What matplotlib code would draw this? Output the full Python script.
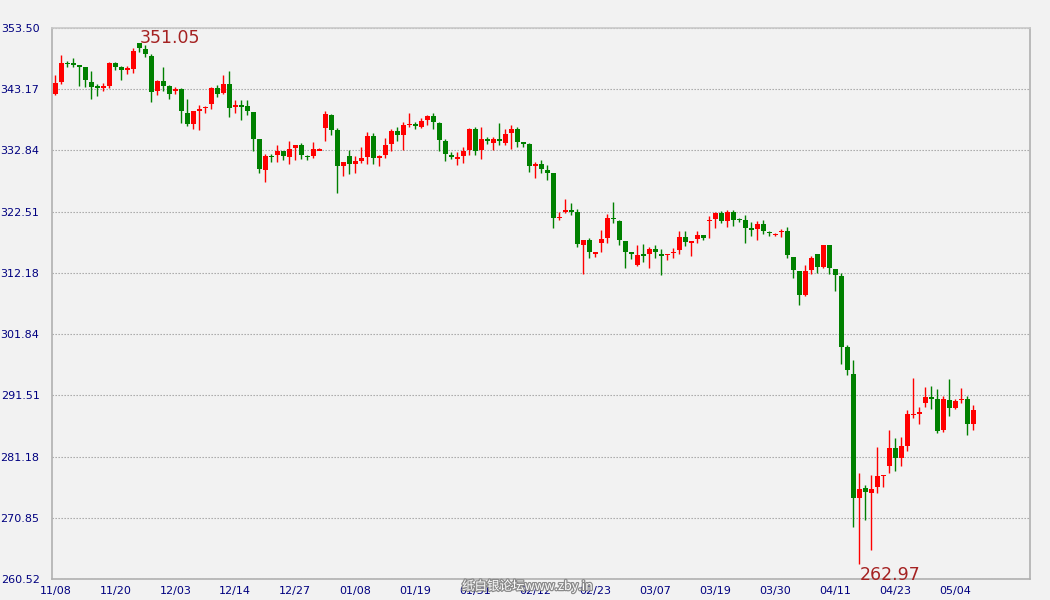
import numpy as np
import matplotlib
matplotlib.use("Agg")
import matplotlib.pyplot as plt
import matplotlib.patheffects as pe

# daily OHLC (red = up, green = down)
opens = [342.32, 344.36, 347.55, 347.42, 347.23, 346.90, 344.36, 343.53, 343.49, 343.74,
         347.63, 346.95, 346.59, 346.61, 350.95, 349.94, 348.76, 342.89, 344.53, 343.68,
         343.04, 343.17, 339.11, 337.30, 339.56, 340.05, 340.69, 343.34, 342.55, 344.02,
         340.27, 340.37, 340.29, 339.28, 334.70, 329.51, 331.84, 332.11, 332.67, 331.71,
         333.24, 333.69, 331.84, 331.88, 332.93, 336.62, 338.77, 336.23, 330.19, 331.82,
         330.53, 331.03, 331.71, 335.21, 331.49, 332.05, 333.91, 336.06, 335.44, 337.22,
         337.15, 336.79, 337.98, 338.60, 337.47, 334.37, 331.99, 331.58, 331.88, 332.90,
         336.40, 332.90, 334.70, 334.08, 334.70, 334.08, 335.78, 336.40, 334.16, 333.86,
         330.19, 330.47, 329.62, 328.95, 321.38, 322.60, 322.64, 322.51, 316.81, 317.77,
         315.55, 317.15, 318.00, 321.50, 320.99, 317.60, 315.59, 313.59, 315.25, 315.29,
         316.25, 315.40, 315.12, 315.46, 315.96, 318.28, 317.15, 317.83, 318.62, 320.97,
         321.21, 322.34, 320.99, 322.51, 321.18, 321.16, 319.65, 319.63, 320.48, 319.03,
         318.65, 319.16, 319.18, 314.89, 312.52, 308.46, 312.58, 315.40, 313.25, 316.92,
         312.86, 311.67, 299.65, 295.08, 274.14, 275.94, 274.98, 276.00, 277.95, 279.56,
         282.55, 280.91, 282.94, 288.28, 288.51, 290.17, 291.24, 290.84, 285.59, 290.68,
         289.38, 290.77, 290.84, 286.67]
highs = [345.54, 348.98, 347.97, 348.42, 347.23, 346.90, 346.22, 344.13, 344.19, 347.69,
         347.74, 347.07, 347.07, 350.17, 351.05, 350.62, 349.15, 344.70, 346.90, 343.85,
         343.57, 343.40, 341.48, 339.50, 340.46, 340.29, 343.57, 343.85, 345.54, 346.22,
         341.31, 341.31, 341.31, 339.28, 334.70, 332.16, 332.28, 333.69, 332.67, 334.37,
         333.69, 334.03, 331.99, 334.20, 333.18, 339.45, 338.94, 336.57, 330.81, 332.84,
         331.82, 333.35, 335.89, 335.72, 331.99, 334.87, 336.40, 336.74, 337.58, 339.11,
         337.58, 338.26, 338.77, 339.11, 337.58, 334.70, 332.50, 332.50, 333.35, 336.62,
         336.74, 336.74, 335.04, 335.04, 337.41, 336.40, 337.07, 336.74, 334.16, 334.03,
         330.81, 331.15, 330.30, 328.95, 322.51, 324.71, 324.04, 323.02, 317.77, 318.11,
         315.74, 319.46, 322.17, 324.20, 321.16, 317.60, 315.74, 316.92, 317.09, 316.58,
         316.92, 316.25, 315.40, 316.42, 319.29, 319.29, 317.60, 319.29, 318.62, 321.83,
         322.51, 322.68, 322.85, 322.85, 321.38, 322.00, 320.82, 320.99, 321.16, 319.29,
         318.84, 319.63, 319.97, 314.89, 312.52, 313.54, 315.06, 315.40, 316.92, 316.92,
         312.86, 312.18, 299.99, 297.45, 278.48, 276.45, 278.14, 282.72, 278.14, 285.59,
         284.24, 284.41, 288.98, 294.40, 289.49, 292.88, 293.05, 292.54, 291.35, 294.23,
         290.84, 292.71, 291.35, 289.83]
lows = [342.15, 344.07, 346.90, 346.90, 343.74, 343.57, 341.53, 342.04, 342.89, 343.40,
        346.44, 344.75, 345.82, 345.99, 349.38, 348.53, 341.03, 342.27, 342.83, 341.53,
        342.32, 337.47, 336.91, 336.40, 336.28, 339.16, 339.78, 341.93, 342.32, 338.49,
        339.16, 337.98, 338.77, 332.73, 329.00, 327.48, 330.92, 330.87, 331.20, 330.53,
        331.20, 331.37, 331.20, 331.54, 332.84, 334.42, 335.44, 325.62, 328.49, 328.83,
        329.00, 330.70, 330.53, 330.53, 330.19, 331.54, 332.73, 334.42, 332.90, 336.79,
        336.40, 336.62, 337.13, 336.45, 332.67, 331.03, 331.37, 330.36, 330.70, 332.05,
        332.05, 331.37, 333.91, 332.90, 333.74, 333.74, 333.07, 333.41, 333.41, 329.17,
        328.16, 329.00, 327.82, 319.80, 321.04, 322.23, 321.89, 316.47, 312.07, 314.61,
        314.78, 315.62, 317.15, 320.54, 316.81, 312.92, 314.44, 313.42, 313.93, 313.08,
        314.61, 311.90, 314.27, 314.61, 315.29, 316.64, 314.95, 317.15, 317.66, 318.00,
        319.69, 320.54, 319.97, 320.14, 320.70, 317.15, 318.33, 317.66, 318.67, 318.33,
        318.33, 318.16, 314.61, 311.39, 306.82, 308.34, 312.07, 312.24, 312.92, 312.07,
        309.19, 296.83, 294.97, 269.23, 262.97, 270.41, 265.33, 274.98, 276.00, 278.37,
        278.71, 279.56, 282.10, 287.68, 286.67, 289.49, 289.21, 285.14, 285.31, 287.97,
        289.21, 290.17, 284.80, 285.59]
closes = [344.19, 347.57, 347.50, 347.38, 346.95, 344.75, 343.57, 343.49, 343.53, 347.57,
          346.95, 346.44, 346.63, 349.61, 350.17, 349.04, 342.72, 344.53, 343.74, 342.44,
          343.08, 339.50, 337.24, 339.45, 339.78, 340.09, 343.34, 342.38, 344.02, 340.01,
          340.31, 340.33, 339.50, 334.82, 329.74, 331.82, 331.80, 332.67, 331.88, 333.01,
          333.69, 332.05, 331.80, 333.01, 332.97, 338.94, 336.28, 330.19, 330.81, 330.53,
          330.98, 331.49, 335.21, 331.54, 331.82, 333.69, 336.06, 335.44, 337.07, 337.26,
          337.11, 337.75, 338.60, 337.64, 334.59, 332.22, 331.71, 331.62, 332.67, 336.40,
          332.73, 334.70, 334.42, 334.70, 334.42, 335.55, 336.40, 334.25, 334.12, 330.19,
          330.47, 329.68, 329.00, 321.38, 321.66, 322.64, 322.60, 316.98, 317.77, 315.62,
          315.59, 317.94, 321.50, 321.21, 317.66, 315.62, 315.55, 315.23, 315.21, 316.25,
          315.62, 314.95, 315.40, 315.74, 318.28, 317.32, 317.60, 318.62, 318.00, 321.01,
          322.34, 320.99, 322.51, 321.16, 321.14, 319.69, 319.61, 320.48, 319.18, 318.99,
          318.69, 319.20, 315.17, 312.58, 308.51, 312.52, 314.72, 313.25, 316.92, 312.92,
          311.90, 299.71, 295.81, 274.14, 275.77, 275.21, 275.77, 277.97, 277.99, 282.55,
          280.91, 282.89, 288.30, 288.32, 288.55, 291.24, 290.90, 285.48, 290.84, 289.38,
          290.51, 290.81, 286.67, 288.98]
date_labels = ["11/08", "11/20", "12/03", "12/14", "12/27", "01/08", "01/19", "01/31",
               "02/12", "02/23", "03/07", "03/19", "03/30", "04/11", "04/23", "05/04"]

o = np.array(opens)
h = np.array(highs)
l = np.array(lows)
c = np.array(closes)
x = np.arange(len(o))

bg = "#f2f2f2"
fig = plt.figure(figsize=(10.5, 6), dpi=100, facecolor=bg)
ax = fig.add_axes([52/1050, 21/600, 978/1050, 551/600], facecolor=bg)

up = c >= o
cols = np.where(up, "#ff0000", "#008000")

ax.vlines(x, l, h, colors=cols, linewidth=1.0, zorder=3)
body_lo = np.minimum(o, c)
body_h = np.maximum(np.abs(c - o), 0.28)
body_lo = np.where(np.abs(c - o) < 0.28, (o + c) / 2 - 0.14, body_lo)
ax.bar(x, body_h, bottom=body_lo, width=0.82, color=cols, linewidth=0, zorder=4)

ymin = l.min() - 2.45
ymax = h.max() + 2.45
ax.set_ylim(ymin, ymax)
ax.set_xlim(-0.55, 162.45)

yt = np.linspace(ymin, ymax, 10)
ax.set_yticks(yt)
ax.set_yticklabels(["%.2f" % v for v in yt])
ax.set_xticks(np.arange(0, len(o), 10))
ax.set_xticklabels(date_labels)

ax.grid(axis="y", color="#a0a0a0", linestyle=(0, (1.2, 1.5)), linewidth=0.8, zorder=1)
ax.tick_params(length=0, colors="#000080", labelsize=8)
ax.tick_params(axis="y", pad=9)
ax.tick_params(axis="x", pad=5)
for s in ax.spines.values():
    s.set_color("#b0b0b0")
    s.set_linewidth(1.2)
ax.spines["top"].set_color("#c8c8c8")

# max / min markers
imax = int(np.argmax(h))
imin = int(np.argmin(l))
ax.text(imax + 0.1, h[imax], "%.2f" % h[imax], color="#a52222", fontsize=12.5,
        ha="left", va="baseline", zorder=5)
ax.text(imin + 0.1, l[imin] - 0.2, "%.2f" % l[imin], color="#a52222", fontsize=12.5,
        ha="left", va="top", zorder=5)

# watermark (sits over the x labels, as in the source)
fig.text(462/1050, 14/600, "纸白银论坛www.zby.in", fontsize=9, color="white",
         family=["Noto Sans CJK SC", "DejaVu Sans"],
         ha="left", va="center", zorder=10,
         path_effects=[pe.withStroke(linewidth=1.8, foreground="#8a8a8a")])

fig.savefig("out.png", dpi=100, facecolor=bg)
